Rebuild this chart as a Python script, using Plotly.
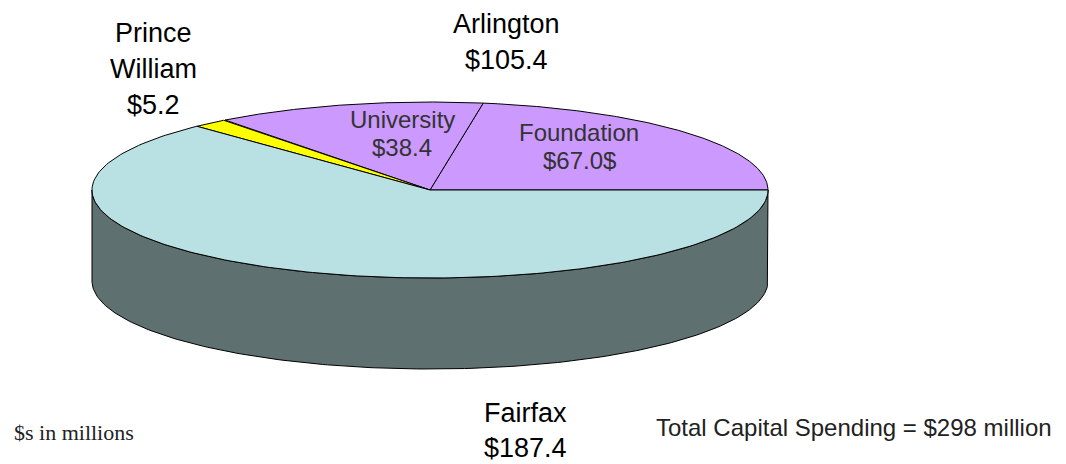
import numpy as np
import plotly.graph_objects as go

# ---- data ----
categories = ["Foundation", "University", "Prince William", "Fairfax"]
values = [67.0, 38.4, 5.2, 187.4]
top_colors = ["#cc99ff", "#cc99ff", "#ffff00", "#b9e0e3"]
side_colors = ["#7a5c99", "#7a5c99", "#999900", "#5f7070"]
total_value = 298

# ---- geometry (pixel space) ----
W, H = 1066, 464
cx, cy = 430, 190
rx, ry = 338, 88
depth = 91

fig = go.Figure()

tot = sum(values)
angles = np.cumsum([0] + [v / tot * 360 for v in values])

def arc(a0, a1, dy=0, n=200):
    t = np.radians(np.linspace(a0, a1, n))
    return cx + rx * np.cos(t), cy - ry * np.sin(t) + dy

# side walls (front half only: 180..360 deg)
for i, cat in enumerate(categories):
    s0 = max(angles[i], 180)
    s1 = min(angles[i + 1], 360)
    if s1 <= s0:
        continue
    xt, yt = arc(s0, s1)
    xb, yb = arc(s0, s1, depth)
    xs = np.concatenate([xt, xb[::-1], xt[:1]])
    ys = np.concatenate([yt, yb[::-1], yt[:1]])
    fig.add_trace(go.Scatter(x=xs, y=ys, mode="lines", fill="toself",
                             fillcolor=side_colors[i],
                             line=dict(color="black", width=1),
                             hoverinfo="skip", showlegend=False))

# top faces
for i, cat in enumerate(categories):
    xa, ya = arc(angles[i], angles[i + 1])
    xs = np.concatenate([[cx], xa, [cx]])
    ys = np.concatenate([[cy], ya, [cy]])
    fig.add_trace(go.Scatter(x=xs, y=ys, mode="lines", fill="toself",
                             fillcolor=top_colors[i],
                             line=dict(color="black", width=1),
                             name=cat, hoverinfo="name+text",
                             text=f"${values[i]:.1f}", showlegend=False))

def label(lines, x, y0, step, size, color="black", family="Liberation Sans"):
    for k, s in enumerate(lines):
        fig.add_annotation(x=x, y=y0 + k * step, xref="x", yref="y", text=s,
                           showarrow=False, xanchor="center", yanchor="middle",
                           font=dict(family=family, size=size, color=color))

label(["Prince", "William", f"${values[2]:.1f}"], 153, 33, 36, 27)
label(["Arlington", f"${values[0] + values[1]:.1f}"], 506, 24, 36, 27)
label(["University", f"${values[1]:.1f}"], 402, 119, 28, 24, color="#333333")
label(["Foundation", f"${values[0]:.1f}$"], 579, 132, 28, 24, color="#333333")
label(["Fairfax", f"${values[3]:.1f}"], 525, 413, 35, 27)

fig.add_annotation(x=854, y=427, xref="x", yref="y",
                   text=f"Total Capital Spending = ${total_value} million",
                   showarrow=False, xanchor="center", yanchor="middle",
                   font=dict(family="Liberation Sans", size=24, color="#222222"))
fig.add_annotation(x=12, y=432, xref="x", yref="y", text="$s in millions",
                   showarrow=False, xanchor="left", yanchor="middle",
                   font=dict(family="Liberation Serif", size=22, color="#222222"))

fig.update_layout(
    width=W, height=H, margin=dict(l=0, r=0, t=0, b=0),
    paper_bgcolor="white", plot_bgcolor="white",
    xaxis=dict(range=[0, W], visible=False, fixedrange=True),
    yaxis=dict(range=[H, 0], visible=False, fixedrange=True),
)

fig.write_html("out.html", config={"displayModeBar": False},
               post_script="document.body.style.margin='0px';document.body.style.overflow='hidden';")
